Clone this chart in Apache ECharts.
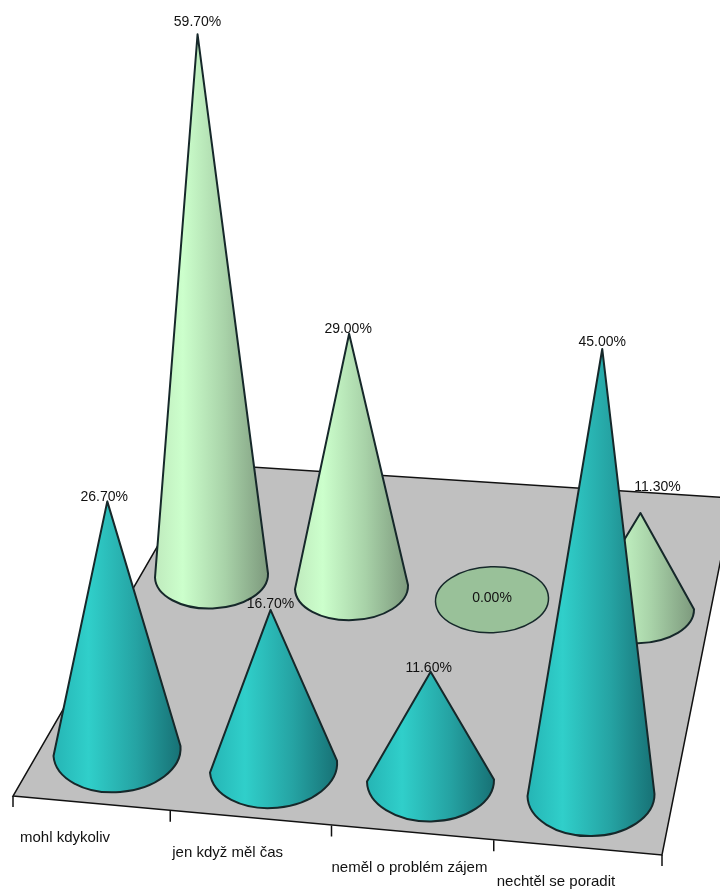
<!DOCTYPE html>
<html>
<head>
<meta charset="utf-8">
<style>
html, body { margin: 0; padding: 0; background: #fff; }
#c1 { width: 720px; height: 891px; }
</style>
<script src="https://cdn.jsdelivr.net/npm/echarts@6/dist/echarts.min.js"></script>
</head>
<body>
<div id="c1"></div>
<script>
var categories = ['mohl kdykoliv', 'jen když měl čas', 'neměl o problém zájem', 'nechtěl se poradit'];
var frontValues = [26.7, 16.7, 11.6, 45.0];
var backValues = [59.7, 29.0, 0.0, 11.3];

// barvy kuzelu
var tealStops = [
    { offset: 0, color: '#25b4b4' }, { offset: 0.28, color: '#30cfca' },
    { offset: 0.65, color: '#25a3a3' }, { offset: 1, color: '#177074' }
];
var greenStops = [
    { offset: 0, color: '#bfeabd' }, { offset: 0.25, color: '#ccffcc' },
    { offset: 0.62, color: '#a8d2a8' }, { offset: 1, color: '#7c987c' }
];
var FONT = '14px "Liberation Sans", Arial, sans-serif';
var CAT_FONT = '15px "Liberation Sans", Arial, sans-serif';
var OUTLINE = '#16282a';

// rada: sklon zakladny, polomery elipsy, naklon, drobne posuny
var frontRow = {
    slope: 14.7, rx: 63.5, ry: 41, stops: tealStops,
    tilt: [5, 6, 1, 1], baseDx: [0, -1.5, -2.5, 0], baseDy: [0, 1, 0, 0], apexDx: [0, 0, 0, 2], apexDy: [7, 1, 0, 0],
    labelDx: [-3, 0, -2, 0], labelDy: [-4, -6, -4, -7]
};
var backRow = {
    slope: 11.6, rx: 56.5, ry: 33, stops: greenStops,
    tilt: [2, 2, 2, 1], baseDx: [0, -2, -3.5, 0], baseDy: [0, 0, 1, 0], apexDx: [1, 0, 0, 0], apexDy: [0, -4, 0, -3],
    labelDx: [0, -1, 0, 17], labelDy: [-12, -5, 0, -26]
};
var floorLayout = {
    slope: 14.75, backLeft: [192, -332], backRight: [71, -357], tick: 11,
    tickDx: [0, -5, -6, -6, 0], labelDx: [7, 2, 0, 3], labelDy: 42
};

// perspektiva: vyssi kuzel se naklani od stredu a je o neco delsi
function coneHeight(h, v) { return h / (1 - 0.0016 * v); }
function coneLean(cx, v) { return (cx - 420) * 0.0012 * v; }

function renderCone(row) {
    return function (params, api) {
        var i = api.value(0), v = api.value(1);
        var zero = api.coord([i, 0]);
        var cx = zero[0] + row.baseDx[i], cy = zero[1] + row.slope * i + row.baseDy[i];
        var h = coneHeight(zero[1] - api.coord([i, v])[1], v);
        var t = row.tilt[i];
        var angle = Math.atan2(t, row.rx) * 180 / Math.PI;
        var lx = cx - row.rx, ly = cy + t, rx = cx + row.rx, ry = cy - t;
        var arc = ' A ' + row.rx + ' ' + row.ry + ' ' + (-angle) + ' 0 0 ';
        var ax = cx + coneLean(cx, v) + row.apexDx[i], ay = cy - h + row.apexDy[i];
        var label = v.toFixed(2) + '%';
        if (v === 0) {
            return {
                type: 'group',
                children: [{
                    type: 'path',
                    shape: { pathData: 'M ' + lx + ' ' + ly + arc + rx + ' ' + ry + arc + lx + ' ' + ly + ' Z' },
                    style: { fill: '#99c199', stroke: OUTLINE, lineWidth: 1.5 }
                }, {
                    type: 'text', x: cx + row.labelDx[i], y: cy + row.labelDy[i] - 2,
                    style: { text: label, font: FONT, fill: '#111', align: 'center', verticalAlign: 'middle' }
                }]
            };
        }
        return {
            type: 'group',
            children: [{
                type: 'path',
                shape: { pathData: 'M ' + ax + ' ' + ay + ' L ' + lx + ' ' + ly + arc + rx + ' ' + ry + ' Z' },
                style: {
                    fill: new echarts.graphic.LinearGradient(0, 0, 1, 0, row.stops),
                    stroke: OUTLINE, lineWidth: 2, lineJoin: 'round'
                }
            }, {
                type: 'text', x: ax + row.labelDx[i], y: ay + row.labelDy[i],
                style: { text: label, font: FONT, fill: '#111', align: 'center', verticalAlign: 'middle' }
            }]
        };
    };
}

// podlaha + osa s popisky kategorii
function renderFloor(params, api) {
    var f = floorLayout, n = categories.length;
    var band = api.size([1, 0])[0];
    var origin = api.coord([0, 0]);
    var x0 = origin[0] - band / 2, y0 = origin[1];
    var x1 = x0 + band * n, y1 = y0 + f.slope * n;
    var children = [{
        type: 'polygon',
        shape: { points: [[x0, y0], [x1, y1], [x1 + f.backRight[0], y1 + f.backRight[1]], [x0 + f.backLeft[0], y0 + f.backLeft[1]]] },
        style: { fill: '#c0c0c0', stroke: '#111', lineWidth: 1.5 }
    }];
    for (var i = 0; i <= n; i++) {
        var tx = x0 + band * i + f.tickDx[i], ty = y0 + f.slope * i;
        children.push({
            type: 'line',
            shape: { x1: tx, y1: ty, x2: tx, y2: ty + f.tick },
            style: { stroke: '#111', lineWidth: 1.5 }
        });
        if (i < n) {
            children.push({
                type: 'text', x: tx + f.labelDx[i], y: ty + f.labelDy,
                style: { text: categories[i], font: CAT_FONT, fill: '#111', align: 'left', verticalAlign: 'middle' }
            });
        }
    }
    return { type: 'group', children: children };
}

function toItems(values) {
    return values.map(function (v, i) { return [i, v]; });
}

var ec_chart = echarts.init(document.getElementById('c1'));
var hiddenY = { type: 'value', min: 0, max: 60, show: false };
var ec_option = {
    animation: false,
    backgroundColor: '#fff',
    grid: [
        { left: 13, width: 649, top: 196, height: 600 },   // podlaha
        { left: 140.5, width: 568, top: 83.5, height: 492 }, // zadni rada
        { left: 38, width: 632, top: 199, height: 552 }    // predni rada
    ],
    xAxis: [
        { type: 'category', gridIndex: 0, data: categories, show: false },
        { type: 'category', gridIndex: 1, data: categories, show: false },
        { type: 'category', gridIndex: 2, data: categories, show: false }
    ],
    yAxis: [
        Object.assign({ gridIndex: 0 }, hiddenY),
        Object.assign({ gridIndex: 1 }, hiddenY),
        Object.assign({ gridIndex: 2 }, hiddenY)
    ],
    series: [
        { type: 'custom', xAxisIndex: 0, yAxisIndex: 0, z: 1, silent: true, renderItem: renderFloor, data: [[0, 0]] },
        { type: 'custom', xAxisIndex: 1, yAxisIndex: 1, z: 2, silent: true, renderItem: renderCone(backRow), data: toItems(backValues) },
        { type: 'custom', xAxisIndex: 2, yAxisIndex: 2, z: 3, silent: true, renderItem: renderCone(frontRow), data: toItems(frontValues) }
    ]
};
ec_chart.setOption(ec_option);
</script>
</body>
</html>
